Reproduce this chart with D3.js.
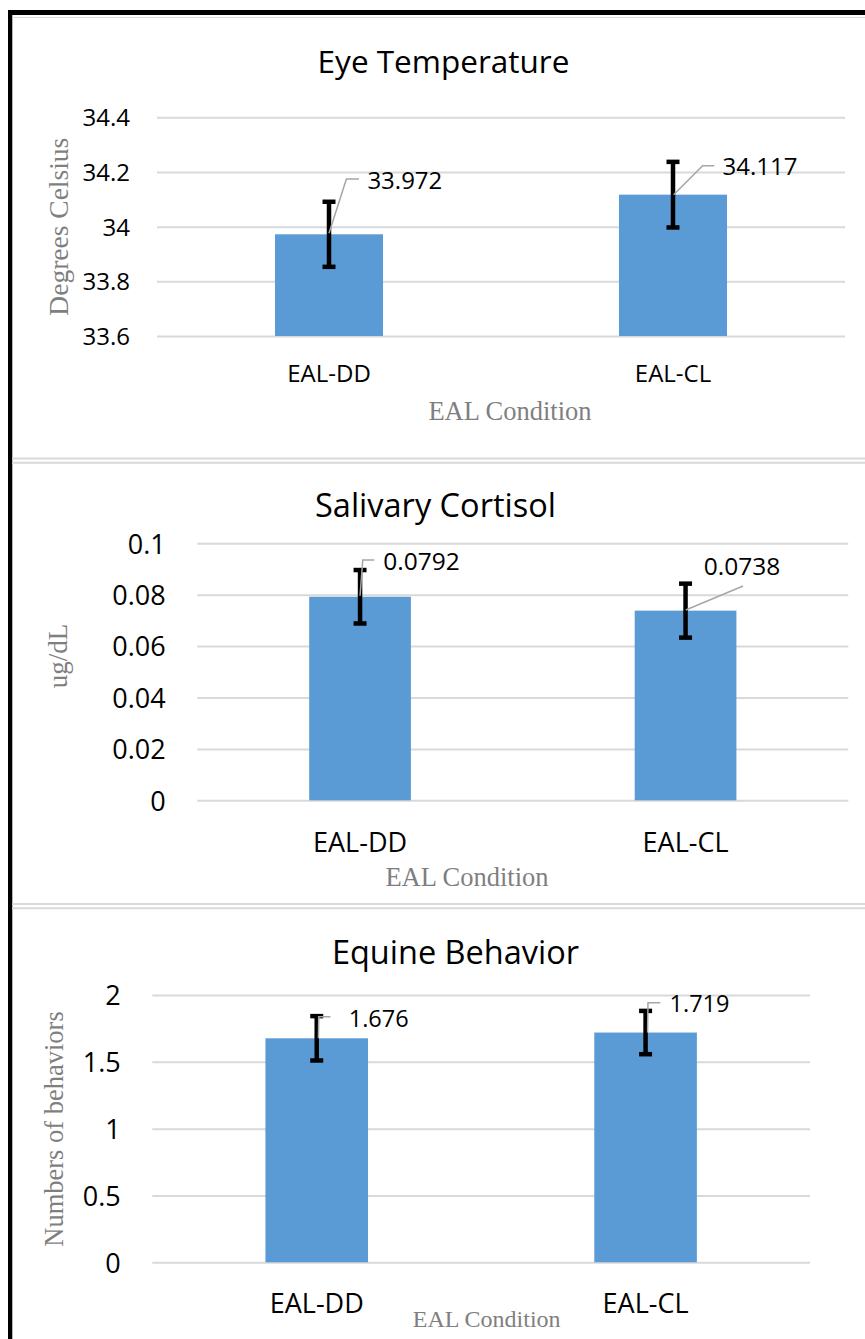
<!DOCTYPE html>
<html>
<head>
<meta charset="utf-8">
<script src="https://cdn.jsdelivr.net/npm/d3@7"></script>
<style>
  html, body { margin: 0; padding: 0; background: #fff; }
  svg { display: block; }
</style>
</head>
<body>
<svg id="chart" width="865" height="1339"></svg>
<script>
// ---------------- DATA ----------------
const categories = ["EAL-DD", "EAL-CL"];

const eyeTitle = "Eye Temperature";
const eyeYTitle = "Degrees Celsius";
const eyeValues = [33.972, 34.117];
const eyeErrors = [0.119, 0.120];
const eyeTicks = [33.6, 33.8, 34, 34.2, 34.4];
const eyeLabels = ["33.972", "34.117"];

const cortTitle = "Salivary Cortisol";
const cortYTitle = "ug/dL";
const cortValues = [0.0792, 0.0738];
const cortErrors = [0.0104, 0.0105];
const cortTicks = [0, 0.02, 0.04, 0.06, 0.08, 0.1];
const cortLabels = ["0.0792", "0.0738"];

const behTitle = "Equine Behavior";
const behYTitle = "Numbers of behaviors";
const behValues = [1.676, 1.719];
const behErrors = [0.166, 0.162];
const behTicks = [0, 0.5, 1, 1.5, 2];
const behLabels = ["1.676", "1.719"];

const xTitle = "EAL Condition";

// ---------------- LAYOUT ----------------
const svg = d3.select("#chart");
const BAR = "#5b9bd5", GRID = "#d9d9d9", AXIS_TXT = "#7f7f7f", LEADER = "#a6a6a6";
const SANS = "'Open Sans', 'Noto Sans', sans-serif";
const SERIF = "'Liberation Serif', 'DejaVu Serif', serif";

// Frame
svg.append("rect").attr("x", 8).attr("y", 10).attr("width", 857).attr("height", 5).attr("fill", "#000");
svg.append("rect").attr("x", 8).attr("y", 10).attr("width", 4.3).attr("height", 1329).attr("fill", "#000");
svg.append("line").attr("x1", 12).attr("x2", 865).attr("y1", 17.5).attr("y2", 17.5)
  .attr("stroke", GRID).attr("stroke-width", 1);
[458.5, 462.7, 904, 908.3].forEach(y => {
  svg.append("line").attr("x1", 12).attr("x2", 865).attr("y1", y).attr("y2", y)
    .attr("stroke", GRID).attr("stroke-width", 2);
});

function drawPanel(cfg) {
  const g = svg.append("g");
  const x = d3.scaleBand().domain(categories).range([cfg.x0, cfg.x1]).padding(0);
  const y = d3.scaleLinear().domain([cfg.ticks[0], cfg.ticks[cfg.ticks.length - 1]]).range([cfg.yb, cfg.yt]);
  const w = cfg.x1 - cfg.x0;

  // grid + tick labels
  const ax = g.append("g").attr("transform", `translate(${cfg.x0},0)`)
    .call(d3.axisLeft(y).tickValues(cfg.ticks).tickSize(-w).tickPadding(cfg.tickPad).tickFormat(d => String(d)));
  ax.select(".domain").remove();
  ax.selectAll(".tick line").attr("stroke", GRID).attr("stroke-width", 2);
  ax.selectAll(".tick text").attr("fill", "#000").attr("font-family", SANS)
    .attr("font-size", cfg.tickFont).attr("dy", "0.36em");

  // bars
  const bw = x.step() * cfg.barFrac;
  const cx = d => x(d) + x.step() / 2;
  g.selectAll("rect.bar").data(categories).join("rect").attr("class", "bar")
    .attr("x", d => cx(d) - bw / 2)
    .attr("width", bw)
    .attr("y", (d, i) => y(cfg.values[i]))
    .attr("height", (d, i) => y(cfg.ticks[0]) - y(cfg.values[i]))
    .attr("fill", BAR);

  // error bars
  categories.forEach((c, i) => {
    const v = cfg.values[i], e = cfg.errors[i];
    const xc = cx(c);
    g.append("line").attr("x1", xc).attr("x2", xc).attr("y1", y(v + e)).attr("y2", y(v - e))
      .attr("stroke", "#000").attr("stroke-width", 4.5);
    [v + e, v - e].forEach(t => {
      g.append("line").attr("x1", xc - 6.5).attr("x2", xc + 6.5).attr("y1", y(t)).attr("y2", y(t))
        .attr("stroke", "#000").attr("stroke-width", 4.5);
    });
  });

  // data labels with leader lines
  categories.forEach((c, i) => {
    const bx = cx(c), by = y(cfg.values[i]);
    const L = cfg.leaders[i];
    const pts = L.pts.map(p => [bx + p[0], by + p[1]]);
    g.append("path").attr("d", d3.line()(pts)).attr("fill", "none")
      .attr("stroke", LEADER).attr("stroke-width", 1.5);
    g.append("text").attr("x", bx + L.dx).attr("y", by + L.dy).attr("dy", "0.36em")
      .attr("font-family", SANS).attr("font-size", cfg.labelFont).attr("fill", "#000")
      .text(cfg.labels[i]);
  });

  // category axis labels
  const bx = g.append("g").attr("transform", `translate(0,${cfg.yb})`)
    .call(d3.axisBottom(x).tickSize(0).tickPadding(0));
  bx.select(".domain").remove();
  bx.selectAll(".tick text").attr("y", cfg.catOff).attr("dy", "0.36em")
    .attr("font-family", SANS).attr("font-size", cfg.catFont).attr("fill", "#000");

  // title
  svg.append("text").attr("x", cfg.titleX).attr("y", cfg.titleY).attr("dy", "0.36em")
    .attr("text-anchor", "middle").attr("font-family", SANS).attr("font-size", cfg.titleFont)
    .attr("fill", "#000").text(cfg.title);

  // axis titles
  svg.append("text").attr("transform", `translate(${cfg.yTitleX},${cfg.yTitleY}) rotate(-90)`)
    .attr("dy", "0.32em").attr("text-anchor", "middle").attr("font-family", SERIF)
    .attr("font-size", cfg.yTitleFont).attr("fill", AXIS_TXT).text(cfg.yTitle);
  svg.append("text").attr("x", cfg.xTitleX).attr("y", cfg.xTitleY).attr("dy", "0.32em")
    .attr("text-anchor", "middle").attr("font-family", SERIF)
    .attr("font-size", cfg.xTitleFont).attr("fill", AXIS_TXT).text(xTitle);
}

drawPanel({
  title: eyeTitle, yTitle: eyeYTitle, values: eyeValues, errors: eyeErrors, ticks: eyeTicks, labels: eyeLabels,
  x0: 157, x1: 845, yb: 336, yt: 117.3, barFrac: 0.314,
  tickPad: 27, tickFont: 24, labelFont: 24, catFont: 24, catOff: 37,
  titleX: 443.5, titleY: 62, titleFont: 31.5,
  yTitleX: 59, yTitleY: 226.7, yTitleFont: 27.5,
  xTitleX: 510, xTitleY: 411.7, xTitleFont: 26.5,
  leaders: [
    { pts: [[0, -1], [17.4, -55.3], [30, -55.3]], dx: 38.4, dy: -54.3 },
    { pts: [[0.6, 0], [29.6, -29], [41.3, -29]], dx: 49.6, dy: -28 }
  ]
});

drawPanel({
  title: cortTitle, yTitle: cortYTitle, values: cortValues, errors: cortErrors, ticks: cortTicks, labels: cortLabels,
  x0: 197.3, x1: 848.3, yb: 800.3, yt: 543.3, barFrac: 0.3125,
  tickPad: 31.6, tickFont: 27, labelFont: 24.5, catFont: 27, catOff: 42,
  titleX: 435.5, titleY: 505, titleFont: 32.5,
  yTitleX: 58, yTitleY: 656, yTitleFont: 27,
  xTitleX: 467, xTitleY: 878, xTitleFont: 26.5,
  leaders: [
    { pts: [[0, -1], [2.7, -36.8], [14.3, -36.8]], dx: 23.3, dy: -36 },
    { pts: [[0.2, -0.6], [57.5, -24.6]], dx: 18.2, dy: -44 }
  ]
});

drawPanel({
  title: behTitle, yTitle: behYTitle, values: behValues, errors: behErrors, ticks: behTicks, labels: behLabels,
  x0: 152.3, x1: 810, yb: 1262.3, yt: 995, barFrac: 0.312,
  tickPad: 31.6, tickFont: 27, labelFont: 23.5, catFont: 27, catOff: 41,
  titleX: 455.5, titleY: 952, titleFont: 32.5,
  yTitleX: 55, yTitleY: 1129, yTitleFont: 26.5,
  xTitleX: 486.7, xTitleY: 1319, xTitleFont: 24,
  leaders: [
    { pts: [[1.7, 0], [2, -21.6], [13.7, -21.6]], dx: 32, dy: -19.3 },
    { pts: [[2, 0], [2.4, -29.9], [14.7, -29.9]], dx: 24, dy: -28.6 }
  ]
});
</script>
</body>
</html>
